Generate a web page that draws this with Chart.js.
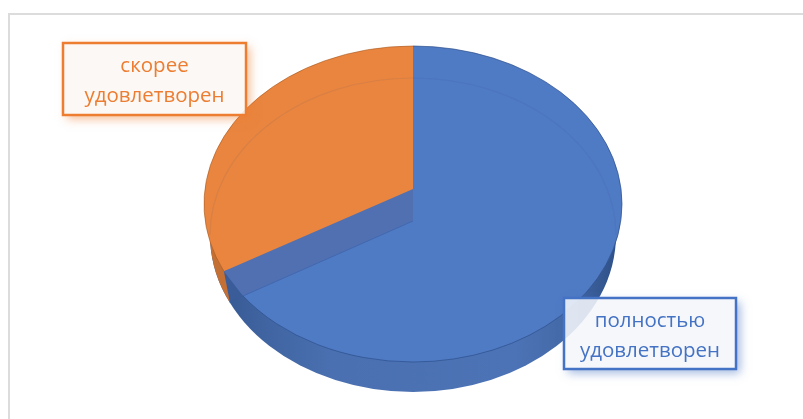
<!DOCTYPE html>
<html lang="ru">
<head>
<meta charset="utf-8">
<title>Удовлетворенность</title>
<style>
    html, body { margin: 0; padding: 0; background: #fff; }
    .frame { position: absolute; left: 8px; top: 13px; right: 0; bottom: 0; border-left: 2px solid #dcdcdc; border-top: 2px solid #dcdcdc; }
    .wrap { position: absolute; left: 0; top: 0; width: 803px; height: 419px; }
</style>
</head>
<body>
<div class="frame"></div>
<div class="wrap"><canvas id="pie" width="803" height="419"></canvas></div>
<script src="https://cdn.jsdelivr.net/npm/chart.js@4/dist/chart.umd.js"></script>
<script>
/* values and labels */
let categories = ['полностью удовлетворен', 'скорее удовлетворен'];
let shares = [68, 32];

/* look of the fake 3d pie */
let faceColors = ['#4f7ac4', '#e9853f'];
let radiusX = 209, radiusY = 158;
let apexTop = -15, apexBottom = 17;
let baseRadiusX = 203, baseRadiusY = 157, baseShift = 31;

let labelBoxes = [
    { x: 564, y: 298, w: 172, h: 71, color: '#4472c4', fill: 'rgba(244,246,250,0.88)', shadow: 'rgba(68,114,196,0.5)', lines: ['полностью', 'удовлетворен'] },
    { x: 63, y: 43, w: 183, h: 72, color: '#ed7d31', fill: 'rgba(251,247,244,0.88)', shadow: 'rgba(237,125,49,0.5)', lines: ['скорее', 'удовлетворен'] }
];

function sideGradient(ctx, cx) {
    let g = ctx.createLinearGradient(cx - baseRadiusX, 0, cx + baseRadiusX, 0);
    g.addColorStop(0, '#33568f');
    g.addColorStop(0.12, '#3f639f');
    g.addColorStop(0.3, '#4a70b1');
    g.addColorStop(0.75, '#4c73b5');
    g.addColorStop(0.88, '#4469a8');
    g.addColorStop(1, '#2f5189');
    return g;
}

let pie3d = {
    id: 'pie3d',
    beforeDatasetsDraw(chart) {
        let ctx = chart.ctx;
        let arcs = chart.getDatasetMeta(0).data;
        let cx = arcs[0].x, cy = arcs[0].y;
        let rimX = cx + radiusX * Math.cos(arcs[1].startAngle);

        // side wall = lower ellipse sticking out below the top face
        ctx.save();
        ctx.beginPath();
        ctx.ellipse(cx, cy + baseShift, baseRadiusX, baseRadiusY, 0, 0, Math.PI * 2);
        ctx.fillStyle = sideGradient(ctx, cx);
        ctx.fill();
        ctx.clip();
        ctx.fillStyle = '#c46f33';
        ctx.fillRect(0, 0, rimX + 6, 419);
        ctx.restore();

        // base under the slices so no seam shows between them
        ctx.beginPath();
        ctx.ellipse(cx, cy, radiusX - 0.5, radiusY - 0.5, 0, 0, Math.PI * 2);
        ctx.fillStyle = faceColors[0];
        ctx.fill();

        // squash the library's round slices into the tilted ellipse
        let r = arcs[0].outerRadius;
        ctx.save();
        ctx.translate(cx, cy);
        ctx.scale(radiusX / r, radiusY / r);
        ctx.translate(-cx, -cy);
    },
    afterDatasetsDraw(chart) {
        let ctx = chart.ctx;
        ctx.restore();

        let arcs = chart.getDatasetMeta(0).data;
        let cx = arcs[0].x, cy = arcs[0].y;
        let a = arcs[1].startAngle;
        let b = a - 10.4 * Math.PI / 180;
        let rim = { x: cx + radiusX * Math.cos(a), y: cy + radiusY * Math.sin(a) };
        let front = { x: cx + radiusX * Math.cos(b), y: cy + radiusY * Math.sin(b) };

        // inner wall seen through the glass
        ctx.beginPath();
        ctx.moveTo(cx, cy + apexTop);
        ctx.lineTo(cx, cy + apexBottom);
        ctx.lineTo(front.x, front.y);
        ctx.lineTo(rim.x, rim.y);
        ctx.closePath();
        ctx.fillStyle = '#5070b2';
        ctx.fill();

        ctx.beginPath();
        ctx.moveTo(cx, cy + apexBottom);
        ctx.lineTo(front.x, front.y);
        ctx.strokeStyle = 'rgba(60,100,170,0.7)';
        ctx.lineWidth = 1;
        ctx.stroke();

        // dark corner where the wall meets the rim
        ctx.beginPath();
        ctx.moveTo(rim.x, rim.y);
        ctx.lineTo(rim.x + 6, rim.y + baseShift);
        ctx.lineTo(front.x, front.y);
        ctx.closePath();
        ctx.fillStyle = '#3a5c99';
        ctx.fill();

        // faint lower ellipse through the faces
        ctx.beginPath();
        ctx.ellipse(cx, cy + baseShift, baseRadiusX, baseRadiusY, 0, Math.PI, Math.PI * 2);
        ctx.strokeStyle = 'rgba(50,80,130,0.09)';
        ctx.lineWidth = 1.2;
        ctx.stroke();

        // thin darker edges of the top face
        ctx.beginPath();
        ctx.ellipse(cx, cy, radiusX, radiusY, 0, a, Math.PI * 1.5);
        ctx.strokeStyle = 'rgba(170,90,30,0.6)';
        ctx.lineWidth = 1;
        ctx.stroke();
        ctx.beginPath();
        ctx.ellipse(cx, cy, radiusX, radiusY, 0, Math.PI * 1.5, b + Math.PI * 2);
        ctx.strokeStyle = 'rgba(45,80,140,0.7)';
        ctx.stroke();

        labelBoxes.forEach(function (box) {
            drawLabel(ctx, box);
        });
    }
};

function drawLabel(ctx, box) {
    // shadow only outside the box, the fill stays see-through
    ctx.save();
    ctx.beginPath();
    ctx.rect(0, 0, 803, 419);
    ctx.rect(box.x, box.y, box.w, box.h);
    ctx.clip('evenodd');
    ctx.shadowColor = box.shadow;
    ctx.shadowBlur = 9;
    ctx.shadowOffsetX = 4;
    ctx.shadowOffsetY = 4;
    ctx.fillStyle = box.color;
    ctx.fillRect(box.x, box.y, box.w, box.h);
    ctx.restore();

    ctx.fillStyle = box.fill;
    ctx.fillRect(box.x, box.y, box.w, box.h);
    ctx.strokeStyle = box.color;
    ctx.lineWidth = 2.5;
    ctx.strokeRect(box.x, box.y, box.w, box.h);

    ctx.fillStyle = box.color;
    ctx.font = '20.5px "Open Sans"';
    ctx.textAlign = 'center';
    ctx.textBaseline = 'alphabetic';
    ctx.fillText(box.lines[0], box.x + box.w / 2, box.y + 29);
    ctx.fillText(box.lines[1], box.x + box.w / 2, box.y + 59);
}

function displayPie() {
    let pieChart = document.querySelector('#pie').getContext('2d');
    new Chart(pieChart, {
        type: 'pie',
        data: {
            labels: categories,
            datasets: [{
                data: shares,
                backgroundColor: faceColors,
                borderWidth: 0,
                clip: false
            }]
        },
        options: {
            responsive: false,
            animation: false,
            layout: { padding: { left: 23, right: 0, top: 0, bottom: 11 } },
            plugins: {
                legend: { display: false },
                tooltip: { enabled: false }
            }
        },
        plugins: [pie3d]
    });
}
displayPie();
</script>
</body>
</html>
